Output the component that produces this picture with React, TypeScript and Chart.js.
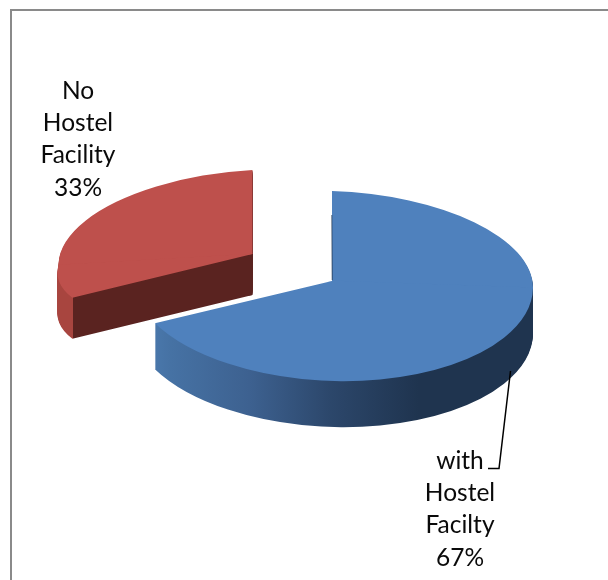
import React, { useEffect, useRef } from "react";
import { Chart, registerables } from "chart.js";

Chart.register(...registerables);

const categories = ["with Hostel Facilty", "No Hostel Facility"];
const values = [67, 33];
const topColors = ["#4F81BD", "#BE504C"];
const labelLines = [
  ["with", "Hostel", "Facilty", "67%"],
  ["No", "Hostel", "Facility", "33%"],
];

const W = 608;
const H = 580;
// Projection of each slice's circle (3D look of the original): apex on the page,
// the vector for one radius along the circle's x axis, and the vectors for one
// radius along its y axis above and below that axis.
const blueShape = { ax: 332, ay: 281, u: [201, 6.8], vUp: [0, 90], vDown: [-2, 100], depth: 46 };
const redShape = { ax: 252.5, ay: 254, u: [194, -11], vUp: [0, 84], vDown: [-21, 71], depth: 41 };
const shapes = [blueShape, redShape];
const labelPos = [
  { x: 460, y: 469 },
  { x: 78, y: 99 },
];
const LINE_STEP = 32.2;
const leader = [
  [510.5, 371],
  [499, 468.5],
  [488, 468.5],
];

type Shape = typeof blueShape;

function drawShaped(ctx: CanvasRenderingContext2D, arc: any, s: Shape, dy: number, area: any) {
  const { x, y, outerRadius: R } = arc;
  const slope = s.u[1] / s.u[0];
  for (const top of [true, false]) {
    const v = top ? s.vUp : s.vDown;
    ctx.save();
    const y0 = s.ay + dy + slope * (0 - s.ax);
    const y1 = s.ay + dy + slope * (W - s.ax);
    const o = top ? 0.4 : -0.4;
    ctx.beginPath();
    ctx.moveTo(0, y0 + o);
    ctx.lineTo(W, y1 + o);
    ctx.lineTo(W, top ? -10 : H + 60);
    ctx.lineTo(0, top ? -10 : H + 60);
    ctx.closePath();
    ctx.clip();
    const a = s.u[0] / R;
    const b = s.u[1] / R;
    const c = v[0] / R;
    const d = v[1] / R;
    ctx.transform(a, b, c, d, s.ax - a * x - c * y, s.ay + dy - b * x - d * y);
    arc.draw(ctx, area);
    ctx.restore();
  }
}

function blueWallPaint(ctx: CanvasRenderingContext2D, arc: any) {
  const g = ctx.createLinearGradient(arc.x - arc.outerRadius, 0, arc.x + arc.outerRadius, 0);
  g.addColorStop(0, "#4F7FB5");
  g.addColorStop(0.1, "#4672A4");
  g.addColorStop(0.3, "#3D6190");
  g.addColorStop(0.5, "#2C476B");
  g.addColorStop(0.72, "#1F344F");
  g.addColorStop(1, "#1F344F");
  return g;
}

function redWallPaint(ctx: CanvasRenderingContext2D, arc: any) {
  const x0 = arc.x - arc.outerRadius;
  const w = 2 * arc.outerRadius;
  const edge = 0.5 - 0.876 / 2;
  const g = ctx.createLinearGradient(x0, 0, x0 + w, 0);
  g.addColorStop(0, "#A8453F");
  g.addColorStop(edge, "#A8453F");
  g.addColorStop(edge, "#5A2320");
  g.addColorStop(1, "#5A2320");
  return g;
}

const pie3d = {
  id: "pie3d",
  beforeDatasetDraw(chart: any) {
    const { ctx, chartArea } = chart;
    const arcs = chart.getDatasetMeta(0).data;
    ctx.save();
    // frame: only its top and left edges fall inside the picture
    ctx.strokeStyle = "#8A8A8A";
    ctx.lineWidth = 2;
    ctx.beginPath();
    ctx.moveTo(W, 10);
    ctx.lineTo(11, 10);
    ctx.lineTo(11, H);
    ctx.stroke();

    // the red slice sits behind, then the blue one
    [1, 0].forEach((i) => {
      const arc = arcs[i];
      const s = shapes[i];
      const base = arc.options;
      const paint = i === 0 ? blueWallPaint(ctx, arc) : redWallPaint(ctx, arc);
      arc.options = { ...base, backgroundColor: paint, borderWidth: 0 };
      for (let d = s.depth; d >= 1; d--) drawShaped(ctx, arc, s, d, chartArea);
      arc.options = base;
      drawShaped(ctx, arc, s, 0, chartArea);
    });

    // thin dark inner wall along the blue slice's upright cut
    ctx.strokeStyle = "rgba(31,52,79,0.75)";
    ctx.lineWidth = 1;
    ctx.beginPath();
    ctx.moveTo(331.8, 215);
    ctx.lineTo(332.2, 280);
    ctx.stroke();

    // leader line
    ctx.strokeStyle = "#000000";
    ctx.lineWidth = 1.5;
    ctx.beginPath();
    leader.forEach(([x, y], k) => (k ? ctx.lineTo(x, y) : ctx.moveTo(x, y)));
    ctx.stroke();

    // data labels
    ctx.fillStyle = "#0A0A0A";
    ctx.font = "24.5px Lato";
    ctx.textAlign = "center";
    ctx.textBaseline = "alphabetic";
    labelLines.forEach((lines, i) => {
      lines.forEach((t, k) => ctx.fillText(t, labelPos[i].x, labelPos[i].y + k * LINE_STEP));
    });
    ctx.restore();
    return false;
  },
};

export default function App() {
  const ref = useRef<HTMLCanvasElement>(null);
  useEffect(() => {
    document.body.style.margin = "0";
    const chart = new Chart(ref.current!, {
      type: "pie",
      data: {
        labels: categories,
        datasets: [{ data: values, backgroundColor: topColors, borderWidth: 0 }],
      },
      options: {
        animation: false,
        responsive: false,
        rotation: 0,
        plugins: { legend: { display: false }, tooltip: { enabled: false } },
      },
      plugins: [pie3d],
    });
    return () => chart.destroy();
  }, []);
  return <canvas ref={ref} width={W} height={H} style={{ display: "block" }} />;
}
